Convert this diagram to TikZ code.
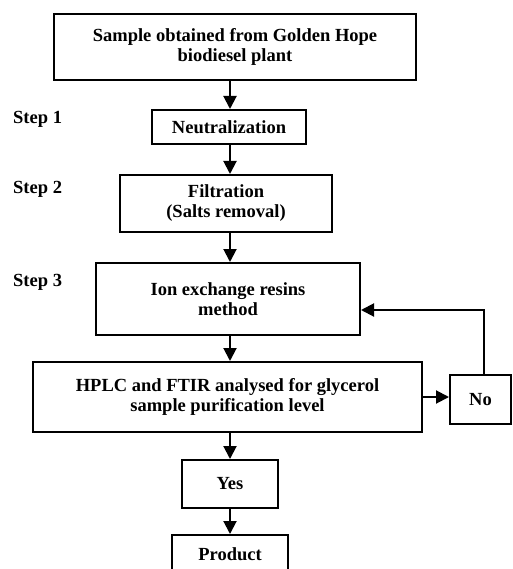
\documentclass[tikz,border=0pt]{standalone}
\usepackage{fontspec}
\setmainfont{Liberation Serif}
\usetikzlibrary{arrows.meta}
\begin{document}
\begin{tikzpicture}[x=1pt,y=-1pt,
  box/.style={draw,line width=2pt,inner sep=0pt,align=center,
    font=\fontsize{18.5}{20}\selectfont\bfseries},
  lbl/.style={anchor=west,inner sep=0pt,font=\fontsize{18.5}{20}\selectfont\bfseries},
  arr/.style={line width=2pt,-{Triangle[length=13pt,width=13pt]}}]
\clip (0,0) rectangle (512,569);
\useasboundingbox (0,0) rectangle (512,569);
\node[box,minimum width=362pt,minimum height=66pt] (top) at (235,47) {Sample obtained from Golden Hope\\biodiesel plant};
\node[box,minimum width=154pt,minimum height=34pt] (neut) at (229,127) {Neutralization};
\node[box,minimum width=212pt,minimum height=57pt] (filt) at (226,203.5) {Filtration\\(Salts removal)};
\node[box,minimum width=264pt,minimum height=72pt] (ion) at (228,299) {Ion exchange resins\\method};
\node[box,minimum width=389pt,minimum height=70pt] (hplc) at (227.5,397) {HPLC and FTIR analysed for glycerol\\sample purification level};
\node[box,minimum width=61pt,minimum height=49pt] (no) at (480.5,399.5) {No};
\node[box,minimum width=96pt,minimum height=48pt] (yes) at (230,484) {Yes};
\node[box,minimum width=116pt,minimum height=38pt] (prod) at (230,554) {Product};
\node[lbl] (s1) at (13,119) {Step 1};
\node[lbl] (s2) at (13,189) {Step 2};
\node[lbl] (s3) at (13,282) {Step 3};
\coordinate (sp) at (230,0);
\coordinate (fb) at (484,310);
\draw[arr] (top.south -| sp) -- (neut.north -| sp);
\draw[arr] (neut.south -| sp) -- (filt.north -| sp);
\draw[arr] (filt.south -| sp) -- (ion.north -| sp);
\draw[arr] (ion.south -| sp) -- (hplc.north -| sp);
\draw[arr] (hplc.south -| sp) -- (yes.north -| sp);
\draw[arr] (yes.south -| sp) -- (prod.north -| sp);
\draw[arr] (hplc.east |- 0,397) -- (no.west |- 0,397);
\draw[arr] (no.north -| fb) |- (ion.east |- fb);
\end{tikzpicture}
\end{document}
